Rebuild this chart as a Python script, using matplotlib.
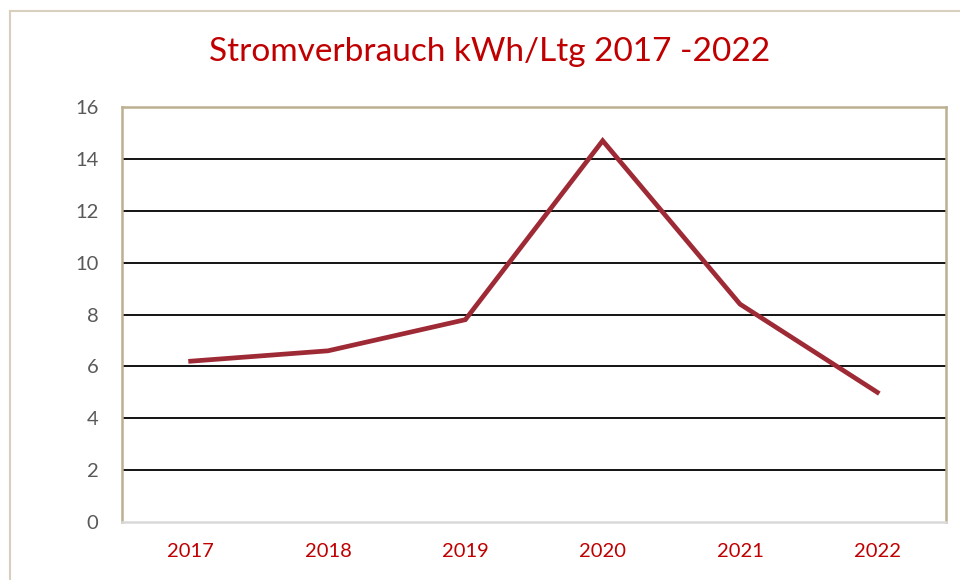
import matplotlib
matplotlib.use("Agg")
import matplotlib.pyplot as plt
from matplotlib.lines import Line2D

years = ["2017", "2018", "2019", "2020", "2021", "2022"]
values = [6.2, 6.6, 7.8, 14.7, 8.4, 5.0]
yticks = [0, 2, 4, 6, 8, 10, 12, 14, 16]
title = "Stromverbrauch kWh/Ltg 2017 -2022"

plt.rcParams['font.family'] = ['Lato', 'DejaVu Sans']

W, H = 960, 580
fig = plt.figure(figsize=(W / 100, H / 100), dpi=100)

# outer chart frame (top and left visible, extends past right/bottom)
fig.add_artist(Line2D([10 / W, 10 / W], [0, 1 - 11 / H], transform=fig.transFigure,
                      color="#D8CFBE", lw=1.5))
fig.add_artist(Line2D([10 / W, 1], [1 - 11 / H, 1 - 11 / H], transform=fig.transFigure,
                      color="#D8CFBE", lw=1.5))

left, right, top, bottom = 122, 946, 107, 522
ax = fig.add_axes([left / W, 1 - bottom / H, (right - left) / W, (bottom - top) / H])

x = list(range(len(years)))
ax.plot(x, values, color="#9E2A36", lw=3.4, solid_joinstyle="miter", zorder=3)

ax.set_xlim(-0.5, len(years) - 0.5)
ax.set_ylim(0, 16)
ax.set_yticks(yticks)
ax.set_xticks(x)
ax.set_xticklabels(years, color="#C00000", fontsize=14.5)
ax.set_yticklabels([str(v) for v in yticks], color="#595959", fontsize=14.5)
ax.tick_params(length=0)
ax.tick_params(axis='x', pad=15)
ax.tick_params(axis='y', pad=17)

for v in yticks[1:-1]:
    ax.axhline(v, color="black", lw=1.3, zorder=1)

for s in ["left", "top", "right"]:
    ax.spines[s].set_color("#BDB091")
    ax.spines[s].set_linewidth(1.8)
ax.spines["bottom"].set_color("#D9D9D9")
ax.spines["bottom"].set_linewidth(1.8)

fig.text(490 / W, 1 - 52 / H, title, color="#C00000", fontsize=24,
         ha="center", va="center")

fig.savefig("out.png", dpi=100)
